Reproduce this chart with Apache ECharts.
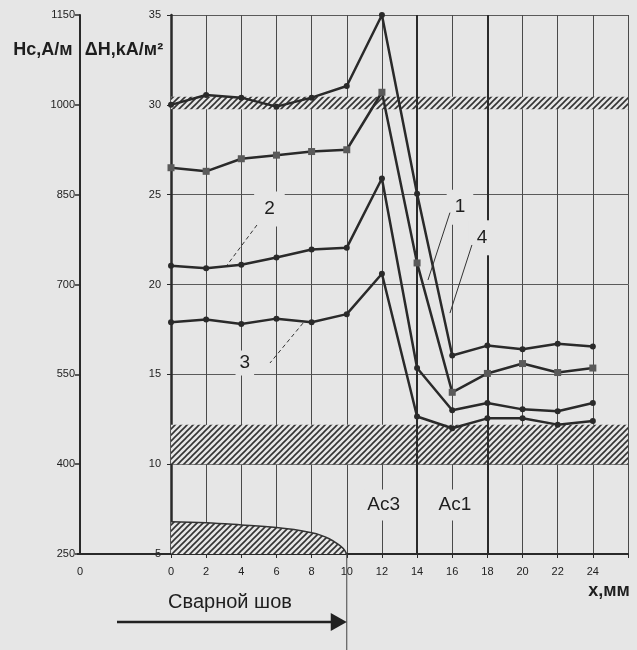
<!DOCTYPE html>
<html><head><meta charset="utf-8">
<script src="https://cdn.jsdelivr.net/npm/echarts@6/dist/echarts.min.js"></script>
<style>html,body{margin:0;padding:0;background:#e6e6e6}#c{width:637px;height:650px}</style>
</head><body><div id="c"></div>
<script>
// ---- data ----
const xValues = [0, 2, 4, 6, 8, 10, 12, 14, 16, 18, 20, 22, 24];
const lineA = [30.0, 30.55, 30.4, 29.9, 30.4, 31.05, 35.0, 25.05, 16.05, 16.6, 16.4, 16.7, 16.55];
const lineB = [26.5, 26.3, 27.0, 27.2, 27.4, 27.5, 30.7, 21.2, 14.0, 15.05, 15.6, 15.1, 15.35];
const lineC = [21.05, 20.9, 21.1, 21.5, 21.95, 22.05, 25.9, 15.35, 13.0, 13.4, 13.05, 12.95, 13.4];
const lineD = [17.9, 18.05, 17.8, 18.1, 17.9, 18.35, 20.6, 12.65, 12.0, 12.55, 12.55, 12.2, 12.4];
const weldX = [0, 2, 4, 6, 7, 8, 8.5, 9, 9.5, 9.8, 10];
const weldY = [6.8, 6.74, 6.62, 6.48, 6.36, 6.18, 6.05, 5.85, 5.55, 5.3, 5.0];
const bandTop = [29.75, 30.45];
const bandBottom = [10, 12.2];
const dHTicks = [5, 10, 15, 20, 25, 30, 35];
const hcTicks = [250, 400, 550, 700, 850, 1000, 1150];
const phaseLines = [14, 18];

const BG = '#e6e6e6', INK = '#2a2a2a';
const FONT = '"Liberation Sans", Arial, sans-serif';

function hatch() {
  const c = document.createElement('canvas'); c.width = 6; c.height = 6;
  const g = c.getContext('2d');
  g.fillStyle = BG; g.fillRect(0, 0, 6, 6);
  g.strokeStyle = '#333'; g.lineWidth = 1.6;
  g.beginPath();
  g.moveTo(0, 6); g.lineTo(6, 0);
  g.moveTo(-1, 1); g.lineTo(1, -1);
  g.moveTo(5, 7); g.lineTo(7, 5);
  g.stroke();
  return c;
}
const pat = { image: hatch(), repeat: 'repeat' };
const pairs = (ys) => xValues.map((x, i) => [x, ys[i]]);

const lineSeries = (data, sym, col, size) => ({
  type: 'line', data: pairs(data), symbol: sym, symbolSize: size,
  lineStyle: { color: INK, width: 2.5 }, itemStyle: { color: col },
  z: 5, silent: true
});

const chart = echarts.init(document.getElementById('c'));
chart.setOption({
  animation: false,
  backgroundColor: BG,
  textStyle: { fontFamily: FONT },
  grid: { left: 171, right: 9, top: 15, bottom: 96 },
  xAxis: {
    type: 'value', min: 0, max: 26, interval: 2,
    axisLine: { lineStyle: { color: INK, width: 2 } },
    axisTick: { show: true, length: 4, lineStyle: { color: INK } },
    axisLabel: { color: '#222', fontSize: 11, margin: 12, formatter: v => v === 26 ? '' : String(v) },
    splitLine: { show: true, lineStyle: { color: '#4a4a4a', width: 1 } }
  },
  yAxis: [{
    type: 'value', min: 5, max: 35, interval: 5, position: 'left',
    axisLine: { show: true, lineStyle: { color: INK, width: 2.5 } },
    axisTick: { show: true, length: 4, lineStyle: { color: INK } },
    axisLabel: { color: '#222', fontSize: 11, margin: 10, formatter: v => String(v) },
    splitLine: { show: true, lineStyle: { color: '#5a5a5a', width: 1 } }
  }, {
    type: 'value', min: 250, max: 1150, interval: 150, position: 'left', offset: 91,
    axisLine: { show: true, lineStyle: { color: INK, width: 2 } },
    axisTick: { show: true, length: 5, lineStyle: { color: INK, width: 1.5 } },
    axisLabel: { color: '#222', fontSize: 11, margin: 5, formatter: v => String(v) },
    splitLine: { show: false }
  }],
  series: [
    {
      type: 'line', data: weldX.map((x, i) => [x, weldY[i]]), smooth: 0.4, symbol: 'none',
      lineStyle: { color: '#333', width: 1.5 }, areaStyle: { color: pat, opacity: 1, origin: 'start' },
      z: 2, silent: true,
      markArea: {
        silent: true,
        itemStyle: { color: pat },
        data: [[{ yAxis: bandTop[0] }, { yAxis: bandTop[1] }], [{ yAxis: bandBottom[0] }, { yAxis: bandBottom[1] }]]
      },
      markLine: {
        silent: true, symbol: 'none', label: { show: false },
        lineStyle: { color: INK, width: 2, type: 'solid' },
        data: phaseLines.map(v => ({ xAxis: v }))
      }
    },
    lineSeries(lineA, 'circle', INK, 6),
    lineSeries(lineB, 'rect', '#5a5a5a', 7),
    lineSeries(lineC, 'circle', INK, 6),
    lineSeries(lineD, 'circle', INK, 6)
  ]
});

const P = (x, y) => chart.convertToPixel({ gridIndex: 0 }, [x, y]);
const o = P(0, 5), o10 = P(10, 5);
const hcX = o[0] - 91;
const txt = (x, y, t, size, weight, extra) => Object.assign({
  type: 'text', x: x, y: y, z: 20,
  style: Object.assign({ text: t, fontSize: size, fontWeight: weight || 'normal', fontFamily: FONT, fill: '#1e1e1e', align: 'center', verticalAlign: 'middle' }, extra || {})
});
const lbl = (dx, dy, t, padX, padY) => {
  const p = P(dx, dy);
  return txt(p[0], p[1], t, 19, 'normal', { backgroundColor: BG, padding: [padY, padX] });
};
const leader = (a, b, dashed) => {
  const p1 = P(a[0], a[1]), p2 = P(b[0], b[1]);
  return { type: 'line', z: 21, shape: { x1: p1[0], y1: p1[1], x2: p2[0], y2: p2[1] },
    style: { stroke: '#333', lineWidth: 1, lineDash: dashed ? [4, 3] : null } };
};

chart.setOption({
  graphic: [
    { type: 'line', z: 10, shape: { x1: hcX - 3, y1: o[1], x2: o[0], y2: o[1] }, style: { stroke: INK, lineWidth: 2 } },
    { type: 'line', z: 10, shape: { x1: o10[0], y1: o10[1], x2: o10[0], y2: 650 }, style: { stroke: '#444', lineWidth: 1 } },
    txt(hcX, o[1] + 18, '0', 11, 'normal', { fill: '#222' }),
    txt(43, 50, 'Hc,А/м', 18, 'bold'),
    txt(124, 50, 'ΔH,kA/м²', 18, 'bold'),
    txt(609, 591, 'x,мм', 18, 'bold'),
    txt(230, 602, 'Сварной шов', 20, 'normal'),
    { type: 'line', z: 10, shape: { x1: 117, y1: 622, x2: o10[0] - 14, y2: 622 }, style: { stroke: '#222', lineWidth: 2.5 } },
    { type: 'polygon', z: 10, shape: { points: [[o10[0] - 16, 613], [o10[0], 622], [o10[0] - 16, 631]] }, style: { fill: '#222' } },
    lbl(12.1, 7.73, 'Ac3', 3, 6),
    lbl(16.15, 7.73, 'Ac1', 3, 6),
    lbl(16.44, 24.3, '1', 8, 8),
    lbl(17.69, 22.6, '4', 8, 8),
    lbl(5.6, 24.2, '2', 10, 8),
    lbl(4.2, 15.63, '3', 4, 3),
    leader([15.87, 24.0], [14.62, 20.25], false),
    leader([17.12, 22.2], [15.87, 18.41], false),
    leader([4.89, 23.31], [3.19, 21.08], true),
    leader([7.51, 17.85], [5.63, 15.63], true)
  ]
});
</script>
</body></html>
